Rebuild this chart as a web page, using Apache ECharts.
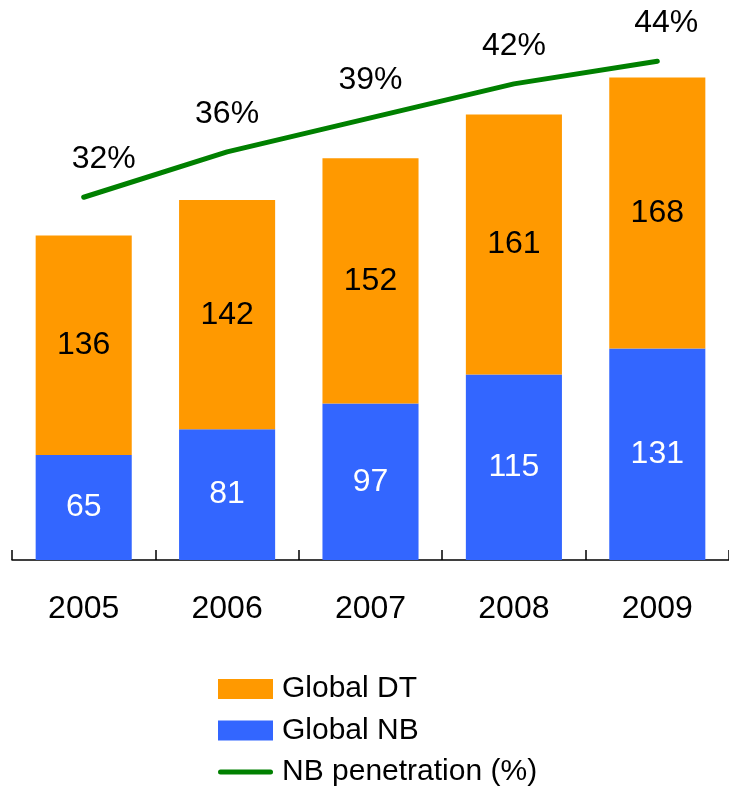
<!DOCTYPE html>
<html>
<head>
<meta charset="utf-8">
<script src="https://cdn.jsdelivr.net/npm/echarts@6/dist/echarts.min.js"></script>
<style>
  html, body { margin: 0; padding: 0; background: #fff; }
  #chart { width: 729px; height: 791px; }
</style>
</head>
<body>
<div id="chart"></div>
<script>
// Years on the category axis
const years = ['2005', '2006', '2007', '2008', '2009'];
// Global notebook units (bottom of stack)
const globalNB = [65, 81, 97, 115, 131];
// Global desktop units (top of stack)
const globalDT = [136, 142, 152, 161, 168];
// Notebook share of the total, in percent
const nbPenetration = [32, 36, 39, 42, 44];

const FONT = '"Liberation Sans", Arial, sans-serif';
const GREEN = '#008000';

// Rounded bar used as the legend marker of the line series
const LINE_ICON = 'path://M2.5,0 L52.5,0 A2.5,2.5 0 0 1 52.5,5 L2.5,5 A2.5,2.5 0 0 1 2.5,0 Z';

// Nudges for the end-point percentage labels
const labelOffsets = { 0: [20, 0], 4: [9, 0] };

const chart = echarts.init(document.getElementById('chart'));
chart.setOption({
  animation: false,
  textStyle: { fontFamily: FONT },
  grid: { left: 12, top: 0, width: 719, bottom: 231, containLabel: false },
  legend: {
    orient: 'vertical',
    left: 218,
    top: 674,
    height: 117,
    padding: 0,
    itemWidth: 55,
    itemHeight: 20,
    itemGap: 11.5,
    symbolKeepAspect: true,
    textStyle: { fontSize: 30, lineHeight: 30, color: '#000', fontFamily: FONT, padding: [0, 0, 0, 4] },
    data: [
      { name: 'Global DT', icon: 'rect' },
      { name: 'Global NB', icon: 'rect' },
      { name: 'NB penetration (%)', icon: LINE_ICON, itemStyle: { color: GREEN } }
    ]
  },
  xAxis: {
    type: 'category',
    data: years,
    boundaryGap: true,
    axisLine: { lineStyle: { color: '#000', width: 1.5 } },
    axisTick: { show: true, inside: true, length: 10, lineStyle: { color: '#000', width: 1.5 } },
    axisLabel: { fontSize: 32, color: '#000', margin: 33, fontFamily: FONT }
  },
  yAxis: [
    { type: 'value', min: 0, max: 347, show: false, splitLine: { show: false } },
    { type: 'value', min: 0, max: 49.4, show: false, splitLine: { show: false } }
  ],
  series: [
    {
      name: 'Global NB',
      type: 'bar',
      stack: 'units',
      data: globalNB,
      barWidth: '67%',
      itemStyle: { color: '#3366FF' },
      label: { show: true, position: 'inside', color: '#fff', fontSize: 32, fontFamily: FONT }
    },
    {
      name: 'Global DT',
      type: 'bar',
      stack: 'units',
      data: globalDT,
      barWidth: '67%',
      itemStyle: { color: '#FF9900' },
      label: { show: true, position: 'inside', color: '#000', fontSize: 32, fontFamily: FONT }
    },
    {
      name: 'NB penetration (%)',
      type: 'line',
      yAxisIndex: 1,
      data: nbPenetration.map((v, i) => labelOffsets[i]
        ? { value: v, label: { offset: labelOffsets[i] } }
        : v),
      symbol: 'circle',
      symbolSize: 0,
      showSymbol: true,
      lineStyle: { color: GREEN, width: 5, cap: 'round' },
      itemStyle: { color: GREEN },
      label: {
        show: true, position: 'top', distance: 22,
        color: '#000', fontSize: 32, fontFamily: FONT,
        formatter: p => p.value + '%'
      }
    }
  ]
});
</script>
</body>
</html>
